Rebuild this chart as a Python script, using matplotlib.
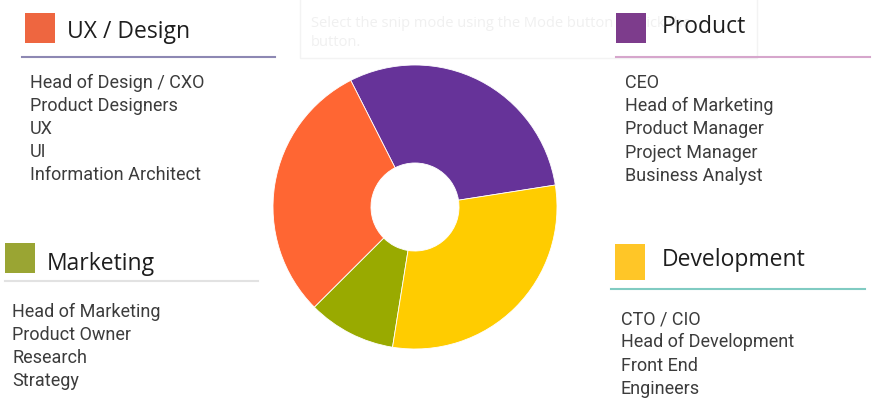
import matplotlib
matplotlib.use("Agg")
from matplotlib import pyplot as plt
from matplotlib.patches import Rectangle

# group data, in pie order (counter-clockwise)
groups = ["Product", "UX / Design", "Marketing", "Development"]
shares = [30, 30, 10, 30]
roles = {
    "UX / Design": ["Head of Design / CXO", "Product Designers", "UX", "UI", "Information Architect"],
    "Product": ["CEO", "Head of Marketing", "Product Manager", "Project Manager", "Business Analyst"],
    "Marketing": ["Head of Marketing", "Product Owner", "Research", "Strategy"],
    "Development": ["CTO / CIO", "Head of Development", "Front End", "Engineers"],
}

wedge_colors = ["#663399", "#ff6633", "#99aa00", "#ffcc00"]

# legend block layout: square box, title pos, rule, list start (pixels)
blocks = {
    "UX / Design": dict(box=(25, 13, 30, 30), box_color="#ee6640", title=(67, 38),
                        rule=(22, 275, 57), rule_color="#8d88b3", list=(30, 88, 23)),
    "Product": dict(box=(616, 13, 30, 30), box_color="#7d3c8c", title=(662, 33),
                    rule=(616, 870, 57), rule_color="#d6a6cc", list=(625, 88, 23.2)),
    "Marketing": dict(box=(5, 243, 30, 30), box_color="#9aa533", title=(47, 270),
                      rule=(5, 258, 281), rule_color="#e2e2e2", list=(12, 317, 23)),
    "Development": dict(box=(615, 244, 30, 36), box_color="#ffc627", title=(662, 266),
                        rule=(611, 865, 289), rule_color="#80cbc2", list=(621, 324, 23.3)),
}

W, H = 892, 417
fig = plt.figure(figsize=(W / 100, H / 100), dpi=100)
fig.patch.set_facecolor("white")

bg = fig.add_axes([0, 0, 1, 1])
bg.set_xlim(0, W)
bg.set_ylim(H, 0)
bg.axis("off")

# faint snip tooltip left over in the screenshot, hidden behind the Product header
bg.add_patch(Rectangle((300, -2), 457, 60, facecolor="white", edgecolor="#f3f3f3", lw=1, zorder=1))
clip = Rectangle((300, 0), 314, 58, transform=bg.transData, visible=False)
bg.add_patch(clip)
for txt, ty in [("Select the snip mode using the Mode button or click the", 27), ("button.", 46)]:
    t = bg.text(311, ty, txt, fontsize=10.5, family="Open Sans", color="#f0f0f0", zorder=2)
    t.set_clip_path(clip)

for name in groups:
    b = blocks[name]
    x, y, w, h = b["box"]
    bg.add_patch(Rectangle((x, y), w, h, facecolor=b["box_color"], edgecolor="none", zorder=3))
    tx, ty = b["title"]
    bg.text(tx, ty, name, fontsize=16.5, family="Open Sans", color="#1e1e1e",
            va="baseline", ha="left", zorder=3)
    x0, x1, ry = b["rule"]
    bg.plot([x0, x1], [ry, ry], color=b["rule_color"], lw=1.5, zorder=3)
    lx, ly, step = b["list"]
    for i, role in enumerate(roles[name]):
        bg.text(lx, ly + i * step, role, fontsize=13, family="Roboto", fontweight="normal",
                color="#3c3c3c", va="baseline", ha="left", zorder=3)

# donut chart
cx, cy, r = 415, 207, 142
pie_ax = fig.add_axes([(cx - r) / W, (H - cy - r) / H, 2 * r / W, 2 * r / H])
pie_ax.pie(shares, colors=wedge_colors, startangle=8.9, counterclock=True,
           radius=1, wedgeprops=dict(width=0.69, edgecolor="white", linewidth=0.6))
pie_ax.set_xlim(-1, 1)
pie_ax.set_ylim(-1, 1)
pie_ax.set_aspect("equal")
pie_ax.axis("off")

fig.savefig("out.png", dpi=100, facecolor="white")
